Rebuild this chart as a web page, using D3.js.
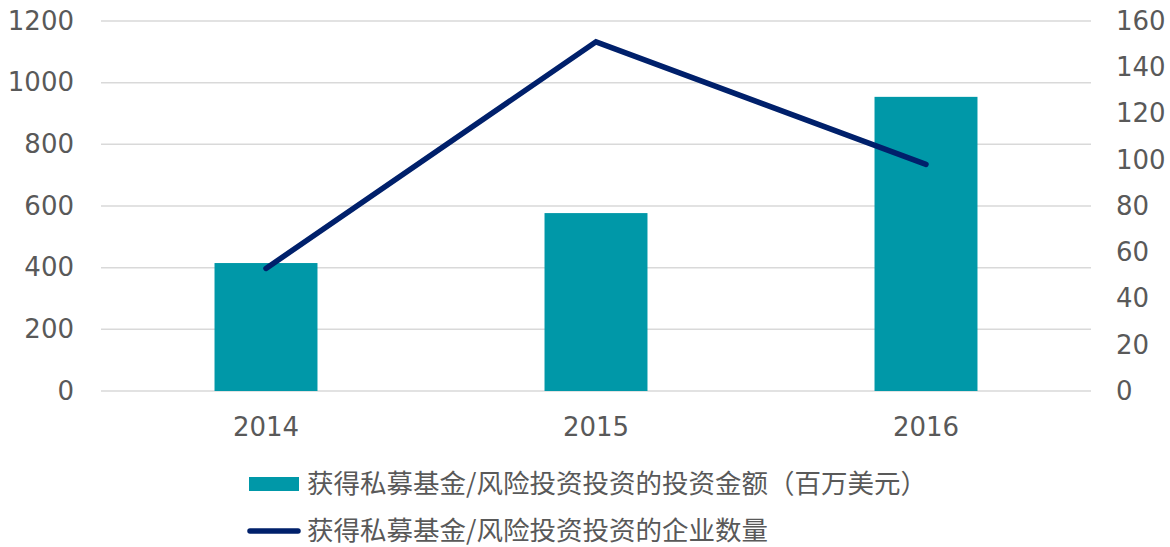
<!DOCTYPE html>
<meta http-equiv="Content-type" content="text/html; charset=UTF-8"/>
<style>
  body { margin: 0; background: #fff; }
  * { font-family: 'DejaVu Sans', 'Noto Sans CJK SC', sans-serif; }
</style>
<svg width="1170" height="547"></svg>
<script src="https://d3js.org/d3.v7.min.js"></script>
<script>
var years = ["2014", "2015", "2016"];
var amount = [415, 577, 954];      // 投资金额（百万美元）
var companies = [53, 151, 98];     // 企业数量
var leftTicks = [0, 200, 400, 600, 800, 1000, 1200];
var rightTicks = [0, 20, 40, 60, 80, 100, 120, 140, 160];
var barName = "获得私募基金/风险投资投资的投资金额（百万美元）";
var lineName = "获得私募基金/风险投资投资的企业数量";

var svg = d3.select("svg"),
    margin = {top: 21, right: 79, bottom: 156, left: 101},
    width = +svg.attr("width") - margin.left - margin.right,
    height = +svg.attr("height") - margin.top - margin.bottom,
    g = svg.append("g").attr("transform", "translate(" + margin.left + "," + margin.top + ")");

var barColor = "#0098a8",
    lineColor = "#00206b",
    textColor = "#595959";

var x = d3.scaleBand()
    .domain(years)
    .range([0, width])
    .paddingInner(0.688)
    .paddingOuter(0.344);

var y = d3.scaleLinear().domain([0, 1200]).range([height, 0]);
var y2 = d3.scaleLinear().domain([0, 160]).range([height, 0]);

// gridlines
g.append("g")
  .selectAll("line")
  .data(leftTicks)
  .join("line")
    .attr("x1", 0)
    .attr("x2", width)
    .attr("y1", function(d) { return y(d); })
    .attr("y2", function(d) { return y(d); })
    .attr("stroke", "#d9d9d9")
    .attr("stroke-width", 1.5);

// left axis
var yAxis = g.append("g")
    .call(d3.axisLeft(y).tickValues(leftTicks).tickFormat(d3.format("d")).tickSize(0).tickPadding(27));
yAxis.select(".domain").remove();
yAxis.selectAll("text")
    .attr("fill", textColor)
    .style("font-size", "26px")
    .style("font-family", "'DejaVu Sans'");

// right axis
var y2Axis = g.append("g")
    .attr("transform", "translate(" + width + ",0)")
    .call(d3.axisRight(y2).tickValues(rightTicks).tickFormat(d3.format("d")).tickSize(0).tickPadding(25));
y2Axis.select(".domain").remove();
y2Axis.selectAll("text")
    .attr("fill", textColor)
    .style("font-size", "26px")
    .style("font-family", "'DejaVu Sans'");

// bottom axis
var xAxis = g.append("g")
    .attr("transform", "translate(0," + height + ")")
    .call(d3.axisBottom(x).tickSize(0).tickPadding(27));
xAxis.select(".domain").remove();
xAxis.selectAll("text")
    .attr("fill", textColor)
    .style("font-size", "26px")
    .style("font-family", "'DejaVu Sans'");

// bars
g.selectAll(".bar")
  .data(years)
  .join("rect")
    .attr("class", "bar")
    .attr("x", function(d) { return x(d); })
    .attr("width", x.bandwidth())
    .attr("y", function(d, i) { return y(amount[i]); })
    .attr("height", function(d, i) { return height - y(amount[i]); })
    .attr("fill", barColor);

// line
var line = d3.line()
    .x(function(d, i) { return x(years[i]) + x.bandwidth() / 2; })
    .y(function(d) { return y2(d); });

g.append("path")
    .datum(companies)
    .attr("fill", "none")
    .attr("stroke", lineColor)
    .attr("stroke-width", 5.5)
    .attr("stroke-linecap", "round")
    .attr("stroke-linejoin", "miter")
    .attr("d", line);

// legend
var legend = svg.append("g");

legend.append("rect")
    .attr("x", 249)
    .attr("y", 477)
    .attr("width", 50)
    .attr("height", 14)
    .attr("fill", barColor);

legend.append("text")
    .attr("x", 307)
    .attr("y", 484)
    .attr("dy", "0.35em")
    .attr("fill", textColor)
    .style("font-size", "26.5px")
    .style("font-family", "'Noto Sans CJK SC'")
    .text(barName);

legend.append("line")
    .attr("x1", 250)
    .attr("x2", 298)
    .attr("y1", 531)
    .attr("y2", 531)
    .attr("stroke", lineColor)
    .attr("stroke-width", 5.5)
    .attr("stroke-linecap", "round");

legend.append("text")
    .attr("x", 307)
    .attr("y", 531)
    .attr("dy", "0.35em")
    .attr("fill", textColor)
    .style("font-size", "26.5px")
    .style("font-family", "'Noto Sans CJK SC'")
    .text(lineName);
</script>
